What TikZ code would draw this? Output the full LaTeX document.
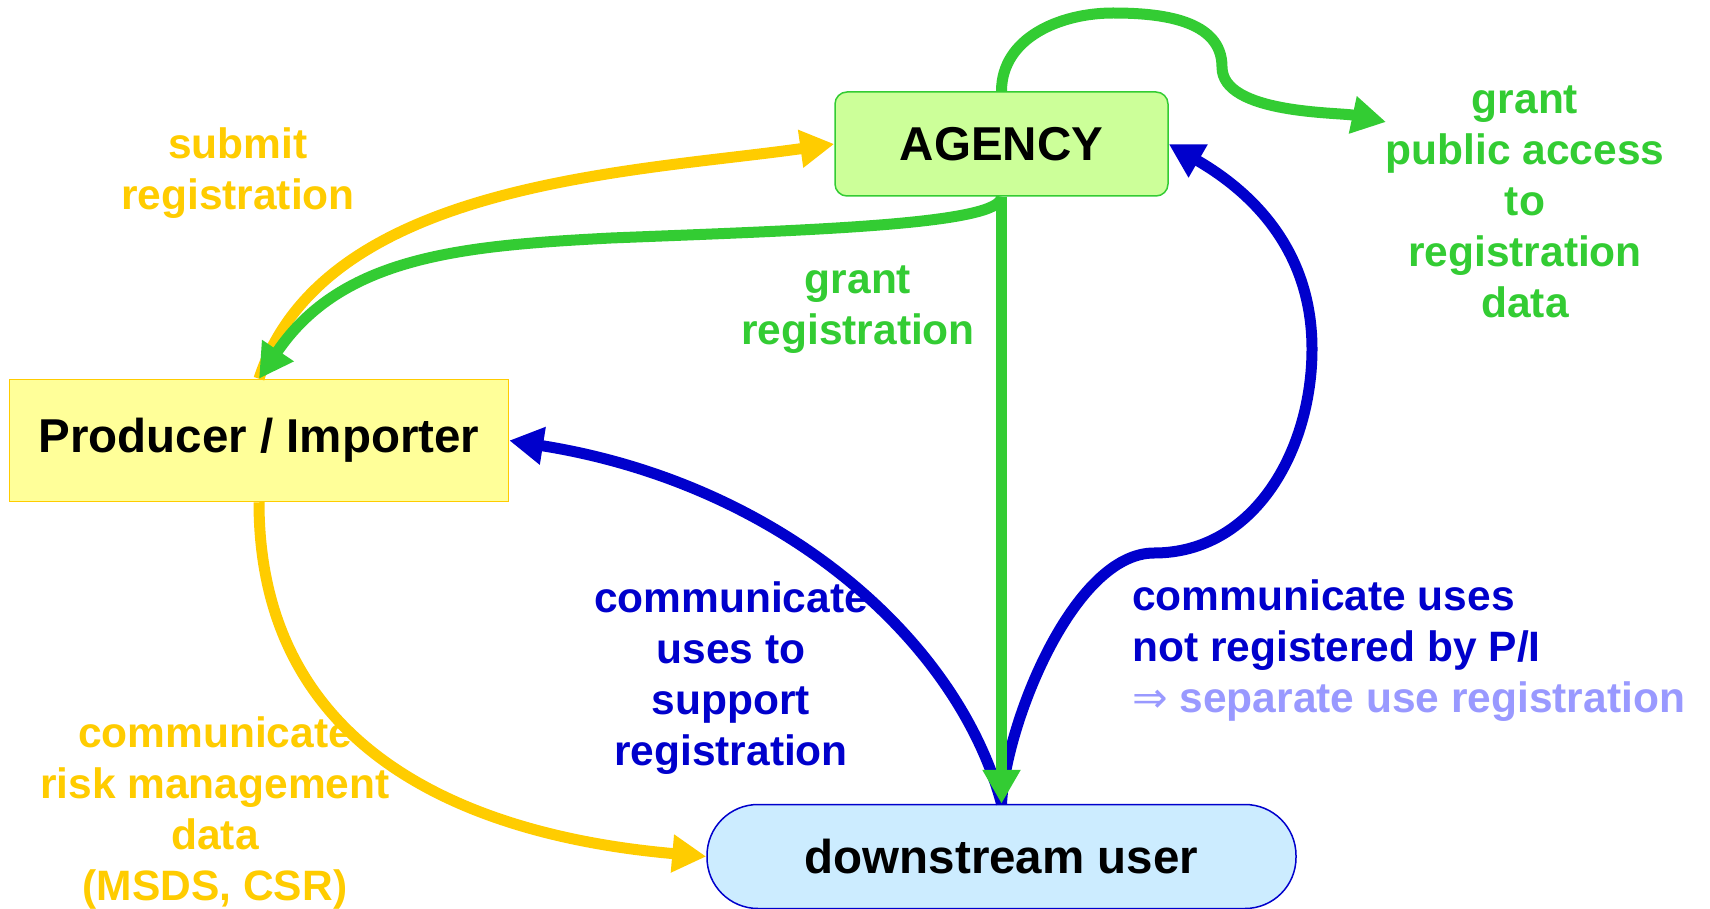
\documentclass[tikz,border=0pt]{standalone}
\usepackage{fontspec}
\setmainfont{Liberation Sans}
\newfontfamily\arrowfont{DejaVu Sans}
\usepackage{xcolor}
\usepackage{tikz}
\usetikzlibrary{arrows.meta,positioning}

\definecolor{regyellow}{RGB}{255,204,0}
\definecolor{reggreen}{RGB}{51,204,51}
\definecolor{regblue}{RGB}{0,0,204}
\definecolor{reglilac}{RGB}{153,153,255}
\definecolor{agencyfill}{RGB}{204,255,153}
\definecolor{producerfill}{RGB}{255,255,153}
\definecolor{userfill}{RGB}{204,236,255}

\begin{document}
\begin{tikzpicture}[
x=1pt,
y=1pt,
actor/.style={
rectangle,
draw,
line width=1.5pt,
text centered,
inner sep=0pt,
font=\fontsize{47.5pt}{57pt}\selectfont\bfseries
},
flow/.style={
-{Triangle[width=36pt,length=34pt]},
line width=11pt
},
flowtext/.style={
align=center,
inner sep=0pt,
font=\fontsize{42.5pt}{51pt}\selectfont\bfseries
}
]
\path[use as bounding box, fill=white] (0,0) rectangle (1710,-909);

% Szereplők
\node[actor, fill=agencyfill, draw=reggreen, rounded corners=12pt, minimum width=333pt, minimum height=104pt] (agency) at (1001.5,-144) {AGENCY};
\node[actor, fill=producerfill, draw=regyellow, minimum width=499pt, minimum height=122pt, below left=182pt and 325pt of agency] (producer) {Producer / Importer};
\node[actor, fill=userfill, draw=regblue, rounded corners=51pt, minimum width=589pt, minimum height=104pt, below=607pt of agency] (user) {downstream user};

% Segédpontok
\coordinate (gbend) at (611,-238);
\coordinate (ubend) at (1154,-553);
\coordinate (uside) at (1312,-349);
\coordinate (gtop) at (1113,-13);
\coordinate (gdip) at (1222,-67);
\coordinate (gpublic) at (1386,-122);

% Kapcsolatok
\draw[flow, regyellow] (producer.north) to[out=72, in=188, looseness=0.85] (agency.west);
\draw[flow, reggreen] (agency.south) .. controls +(0,-28) and +(200,8) .. (gbend) to[out=183, in=56] (producer.north);
\draw[flow, regyellow] (producer.south) to[out=-90, in=175, looseness=1.1] (user.west);
\draw[flow, regblue] (user.north) .. controls +(105:171) and +(-9:273) .. (producer.east);
\draw[flow, regblue] (user.north) to[out=87, in=180, looseness=0.7] (ubend) to[out=0, in=-90] (uside) to[out=90, in=-30] (agency.east);
\draw[flow, reggreen] (agency.south) -- (user.north);
\draw[flow, reggreen] (agency.north) to[out=90, in=180] (gtop) to[out=0, in=90] (gdip) to[out=-90, in=168, looseness=0.7] (gpublic);

% Feliratok
\node[flowtext, text=regyellow] (submittext) at (238,-173) {submit\\registration};
\node[flowtext, text=reggreen] (granttext) at (858,-310) {grant\\registration};
\node[flowtext, text=reggreen] (publictext) at (1525,-202) {grant\\public access\\to\\registration\\data};
\node[flowtext, text=regblue] (supporttext) at (731,-678) {communicate\\uses to\\support\\registration};
\node[flowtext, text=regblue, align=left, anchor=west] (usestext) at (1132,-651) {communicate uses\\not registered by P/I\\\textcolor{reglilac}{{\arrowfont\mdseries ⇒} separate use registration}};
\node[flowtext, text=regyellow] (risktext) at (215,-813) {communicate\\risk management\\data\\(MSDS, CSR)};
\end{tikzpicture}
\end{document}
